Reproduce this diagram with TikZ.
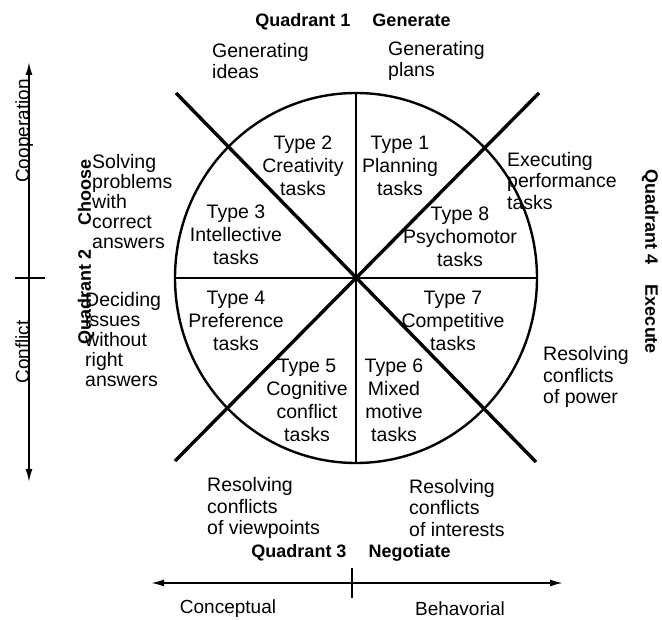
\documentclass[tikz,border=0pt]{standalone}
\usepackage{fontspec}
\setmainfont{Liberation Sans}
\usetikzlibrary{arrows.meta}
\begin{document}
\begin{tikzpicture}[x=1pt,y=-1pt,
  inlbl/.style={font=\fontsize{19.5}{23}\selectfont, align=center, inner sep=0pt},
  outlbl/.style={font=\fontsize{19.5}{21.5}\selectfont, align=left, inner sep=0pt, anchor=west},
  quad/.style={font=\fontsize{18}{22}\selectfont\bfseries, inner sep=0pt},
  axlbl/.style={font=\fontsize{19}{22}\selectfont, inner sep=0pt},
  rim/.style={line width=2.4pt},
  diag/.style={line width=3.4pt},
  split/.style={line width=1.8pt},
  axis/.style={line width=1.8pt, {Latex[length=13pt,width=7pt]}-{Latex[length=13pt,width=7pt]}},
  tick/.style={line width=1.4pt}
]
\useasboundingbox (0,0) rectangle (662,620);
% centre and geometry
\coordinate (C) at (356,278);
\coordinate (Ntop) at (356,93);
\coordinate (Sbot) at (356,463);
\coordinate (Wl) at (175,278);
\coordinate (Er) at (537,278);
\coordinate (DNW) at (176,93);
\coordinate (DSE) at (536,462);
\coordinate (DNE) at (539,93);
\coordinate (DSW) at (175,461);
\draw[rim] (C) ellipse [x radius=181, y radius=185];
\draw[split] (Ntop) -- (Sbot);
\draw[split] (Wl) -- (Er);
\draw[diag] (DNW) -- (DSE);
\draw[diag] (DNE) -- (DSW);

% types
\node[inlbl] (t2) at (303,166) {Type 2\\Creativity\\tasks};
\node[inlbl] (t1) at (400,166) {Type 1\\Planning\\tasks};
\node[inlbl] (t3) at (236,235) {Type 3\\Intellective\\tasks};
\node[inlbl] (t8) at (460,237) {Type 8\\Psychomotor\\tasks};
\node[inlbl] (t4) at (236,321) {Type 4\\Preference\\tasks};
\node[inlbl] (t7) at (453,321) {Type 7\\Competitive\\tasks};
\node[inlbl] (t5) at (307,400) {Type 5\\Cognitive\\conflict\\tasks};
\node[inlbl] (t6) at (394,400) {Type 6\\Mixed\\motive\\tasks};

% outer descriptions
\node[outlbl] (gi) at (212,61) {Generating\\ideas};
\node[outlbl] (gp) at (388,61) {Generating\\plans};
\node[outlbl, font=\fontsize{19.5}{20}\selectfont] (sp) at (92,202) {Solving\\problems\\with\\correct\\answers};
\node[outlbl, font=\fontsize{19.5}{20}\selectfont] (di) at (85,340) {Deciding\\issues\\without\\right\\answers};
\node[outlbl] (ep) at (507,181) {Executing\\performance\\tasks};
\node[outlbl] (rp) at (543,377) {Resolving\\conflicts\\of power};
\node[outlbl] (rv) at (207,508) {Resolving\\conflicts\\of viewpoints};
\node[outlbl] (ri) at (409,508) {Resolving\\conflicts\\of interests};

% quadrant labels
\node[quad] (q1) at (353,22) {Quadrant 1\hspace{22pt}Generate};
\node[quad] (q3) at (351,553) {Quadrant 3\hspace{22pt}Negotiate};
\node[quad, rotate=90] (q2) at (86,252) {Quadrant 2\hspace{24pt}Choose};
\node[quad, rotate=-90] (q4) at (650,262) {Quadrant 4\hspace{20pt}Execute};

% vertical axis
\coordinate (vtop) at (29,62);
\coordinate (vbot) at (29,482);
\coordinate (vt1) at (15,278);
\coordinate (vt2) at (45,278);
\draw[axis] (vbot) -- (vtop);
\draw[tick] (vt1) -- (vt2);
\node[axlbl, rotate=90, anchor=base] (coop) at (29,131) {Cooperation};
\node[axlbl, rotate=90, anchor=base] (conf) at (29,352) {Conflict};

% horizontal axis
\coordinate (hl) at (151,583);
\coordinate (hr) at (563,583);
\coordinate (ht1) at (352,568);
\coordinate (ht2) at (352,598);
\draw[axis] (hl) -- (hr);
\draw[tick] (ht1) -- (ht2);
\node[axlbl] (cp) at (228,609) {Conceptual};
\node[axlbl] (bh) at (460,609) {Behavorial};
\end{tikzpicture}
\end{document}
